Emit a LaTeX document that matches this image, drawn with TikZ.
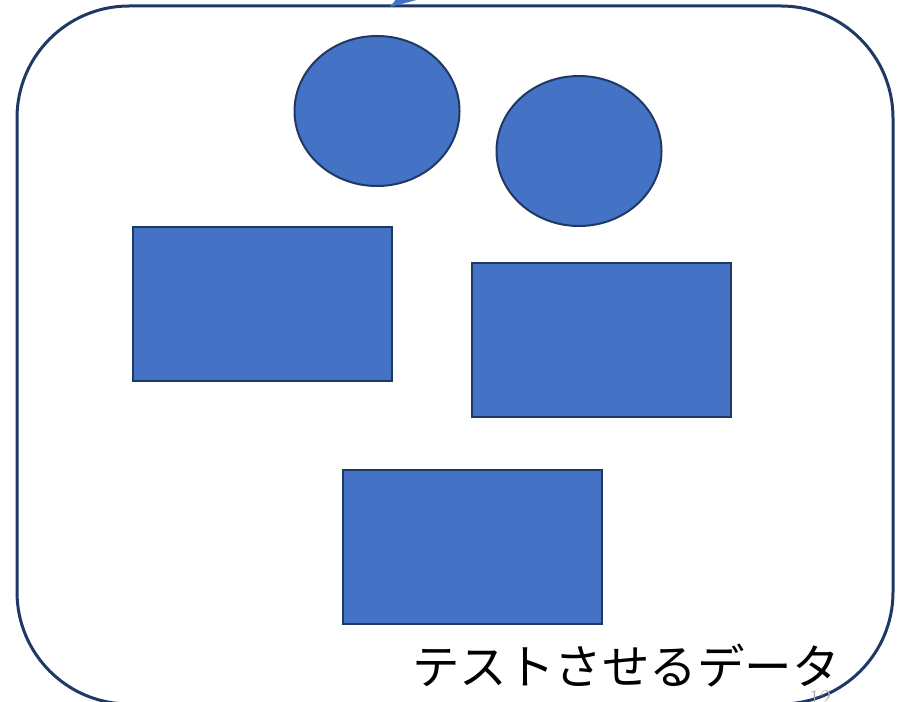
\documentclass[tikz,border=0pt]{standalone}
\usepackage{fontspec}
\usetikzlibrary{shapes.geometric}
\newfontfamily\jpfont{Noto Sans CJK JP}
\definecolor{shapefill}{HTML}{4472C4}
\definecolor{shapeline}{HTML}{203864}
\definecolor{frameline}{HTML}{203864}
\begin{document}
\begin{tikzpicture}[x=1pt,y=-1pt,
  blob/.style={draw=shapeline,fill=shapefill,line width=2pt,inner sep=0pt},
  boxshape/.style={blob,rectangle,minimum width=259pt,minimum height=154pt},
  oval/.style={blob,ellipse,minimum width=165pt,minimum height=150pt}]
\useasboundingbox (0,0) rectangle (909,701);
\clip (0,0) rectangle (909,701);
\draw[frameline,line width=3pt,rounded corners=112pt] (17,6) rectangle (893,704);
\fill[shapefill] (390,7) -- (397,-2) -- (424,-2) -- cycle;
\node[oval] (c1) at (377,111) {};
\node[oval] (c2) at (579,151) {};
\node[boxshape] (r1) at (262.5,304) {};
\node[boxshape] (r2) at (601.5,340) {};
\node[boxshape] (r3) at (472.5,546.5) {};
\node[inner sep=0pt,font=\jpfont\fontsize{47.5pt}{52pt}\selectfont] (lbl) at (626,666) {テストさせるデータ};
\node[inner sep=0pt,text=gray!70,font=\fontsize{24pt}{28pt}\selectfont] (pg) at (820,699) {12};
\end{tikzpicture}
\end{document}
